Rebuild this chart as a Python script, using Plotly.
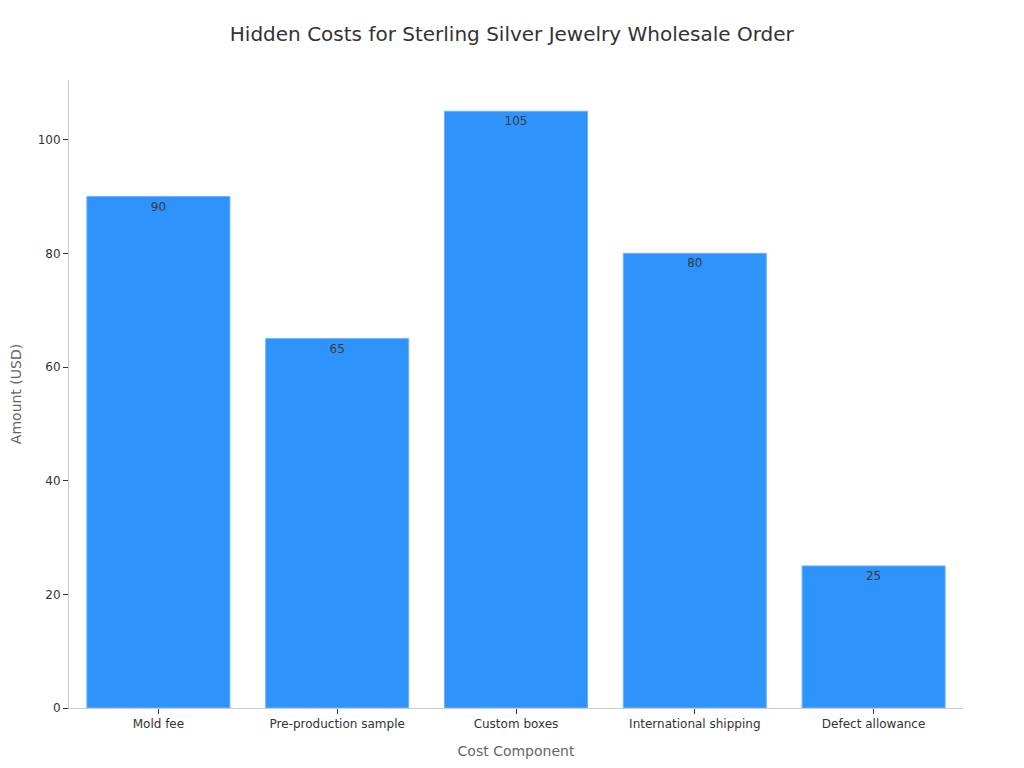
import plotly.graph_objects as go

components = ["Mold fee", "Pre-production sample", "Custom boxes",
              "International shipping", "Defect allowance"]
amounts = [90, 65, 105, 80, 25]

fig = go.Figure()
fig.add_trace(go.Bar(
    x=components,
    y=amounts,
    text=amounts,
    textposition="inside",
    insidetextanchor="end",
    textfont=dict(color="#3a3a3a", size=12),
    marker=dict(color="#2E93FA", line=dict(color="#6CB4FB", width=1)),
))

fig.update_layout(
    width=1024,
    height=768,
    title=dict(text="Hidden Costs for Sterling Silver Jewelry Wholesale Order",
               x=0.492, xanchor="center", y=0.975, font=dict(size=20, color="#333333")),
    font=dict(family="DejaVu Sans", size=12, color="#333333"),
    plot_bgcolor="white",
    paper_bgcolor="white",
    margin=dict(l=61, r=69, t=72, b=68),
    bargap=0.2,
    showlegend=False,
    xaxis=dict(
        title=dict(text="Cost Component", font=dict(size=14, color="#666666"), standoff=15),
        showline=True, linecolor="#cccccc", ticks="outside", tickcolor="#333333",
        ticklen=5, showgrid=False,
    ),
    yaxis=dict(
        title=dict(text="Amount (USD)", font=dict(size=14, color="#666666"), standoff=20),
        range=[0, 110.5], showline=True, linecolor="#cccccc", ticks="outside",
        tickcolor="#333333", ticklen=5, showgrid=False, zeroline=False, dtick=20,
        automargin=False,
    ),
)

fig.write_html("out.html")
